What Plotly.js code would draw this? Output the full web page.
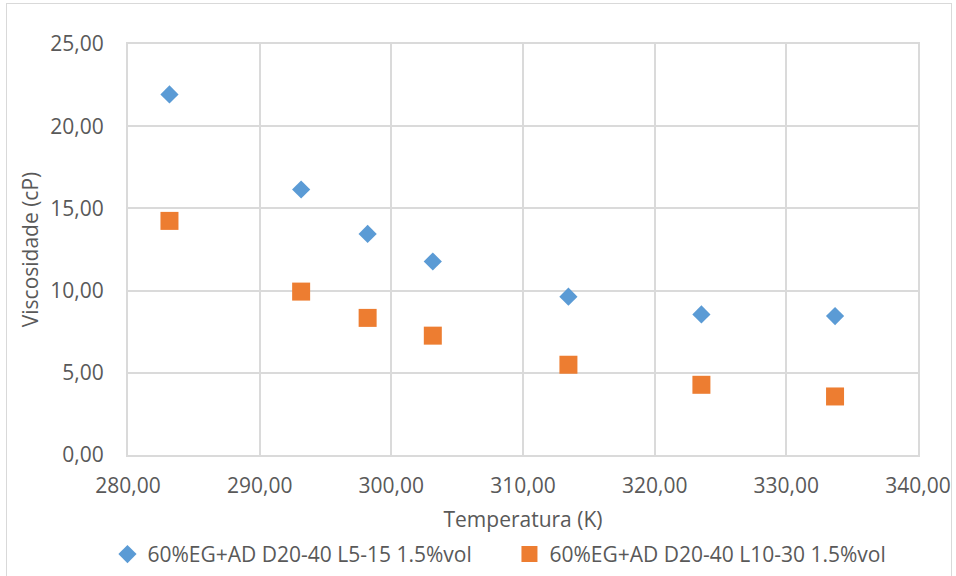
<!DOCTYPE html>
<html>
<head>
<meta charset="utf-8">
<script src="https://cdn.plot.ly/plotly-3.0.1.min.js"></script>
<style>
  html, body { margin: 0; padding: 0; background: #ffffff; }
  #wrap { position: relative; width: 956px; height: 576px; overflow: hidden; }
  #chart { width: 956px; height: 576px; }
  #frame { position: absolute; left: 6px; top: 3px; width: 944px; height: 600px;
           border: 1px solid #d9d9d9; pointer-events: none; }
</style>
</head>
<body>
<div id="wrap">
  <div id="chart"></div>
  <div id="frame"></div>
</div>
<script>
// Data
const seriesNames = [
  "60%EG+AD D20-40 L5-15 1.5%vol",
  "60%EG+AD D20-40 L10-30 1.5%vol"
];
const temperatureK = [283.15, 293.15, 298.2, 303.15, 313.45, 323.55, 333.7];
const viscosityL5_15 = [21.93, 16.15, 13.45, 11.77, 9.63, 8.55, 8.45];
const viscosityL10_30 = [14.24, 9.94, 8.34, 7.26, 5.49, 4.27, 3.56];
const xTickVals = [280, 290, 300, 310, 320, 330, 340];
const xTickText = ["280,00", "290,00", "300,00", "310,00", "320,00", "330,00", "340,00"];
const yTickVals = [0, 5, 10, 15, 20, 25];
const yTickText = ["0,00", "5,00", "10,00", "15,00", "20,00", "25,00"];

const FONT = "Open Sans, Liberation Sans, sans-serif";
const TXT = "#595959";
const GRID = "#dadada";

const traces = [
  {
    x: temperatureK, y: viscosityL5_15, name: seriesNames[0],
    type: "scatter", mode: "markers",
    marker: { symbol: "diamond", size: 14, color: "#5B9BD5" }
  },
  {
    x: temperatureK, y: viscosityL10_30, name: seriesNames[1],
    type: "scatter", mode: "markers",
    marker: { symbol: "square", size: 18, color: "#ED7D31" }
  }
];

const layout = {
  width: 956, height: 576,
  margin: { l: 128, r: 38, t: 44, b: 121, autoexpand: false },
  paper_bgcolor: "#ffffff", plot_bgcolor: "#ffffff",
  font: { family: FONT, size: 21, color: TXT },
  showlegend: true,
  legend: {
    orientation: "h", x: -0.026, xanchor: "left", y: -0.192, yanchor: "top",
    font: { family: FONT, size: 21, color: TXT },
    itemwidth: 30, entrywidth: 357, entrywidthmode: "pixels",
    traceorder: "normal", bgcolor: "rgba(0,0,0,0)"
  },
  xaxis: {
    range: [280, 340], tickmode: "array", tickvals: xTickVals, ticktext: xTickText,
    showgrid: true, gridcolor: GRID, gridwidth: 2,
    showline: true, linecolor: GRID, linewidth: 2, mirror: true,
    zeroline: false, ticks: "outside", ticklen: 11, tickcolor: "rgba(0,0,0,0)",
    tickfont: { family: FONT, size: 21, color: TXT },
    title: { text: "Temperatura (K)", font: { family: FONT, size: 21, color: TXT }, standoff: 14 }
  },
  yaxis: {
    range: [0, 25], tickmode: "array", tickvals: yTickVals, ticktext: yTickText,
    showgrid: true, gridcolor: GRID, gridwidth: 2,
    showline: true, linecolor: GRID, linewidth: 2, mirror: true,
    zeroline: false, ticks: "outside", ticklen: 18, tickcolor: "rgba(0,0,0,0)",
    tickfont: { family: FONT, size: 21, color: TXT },
    title: { text: "Viscosidade (cP)", font: { family: FONT, size: 21, color: TXT }, standoff: 6 }
  }
};

Plotly.newPlot("chart", traces, layout, { displayModeBar: false, staticPlot: true });
</script>
</body>
</html>
